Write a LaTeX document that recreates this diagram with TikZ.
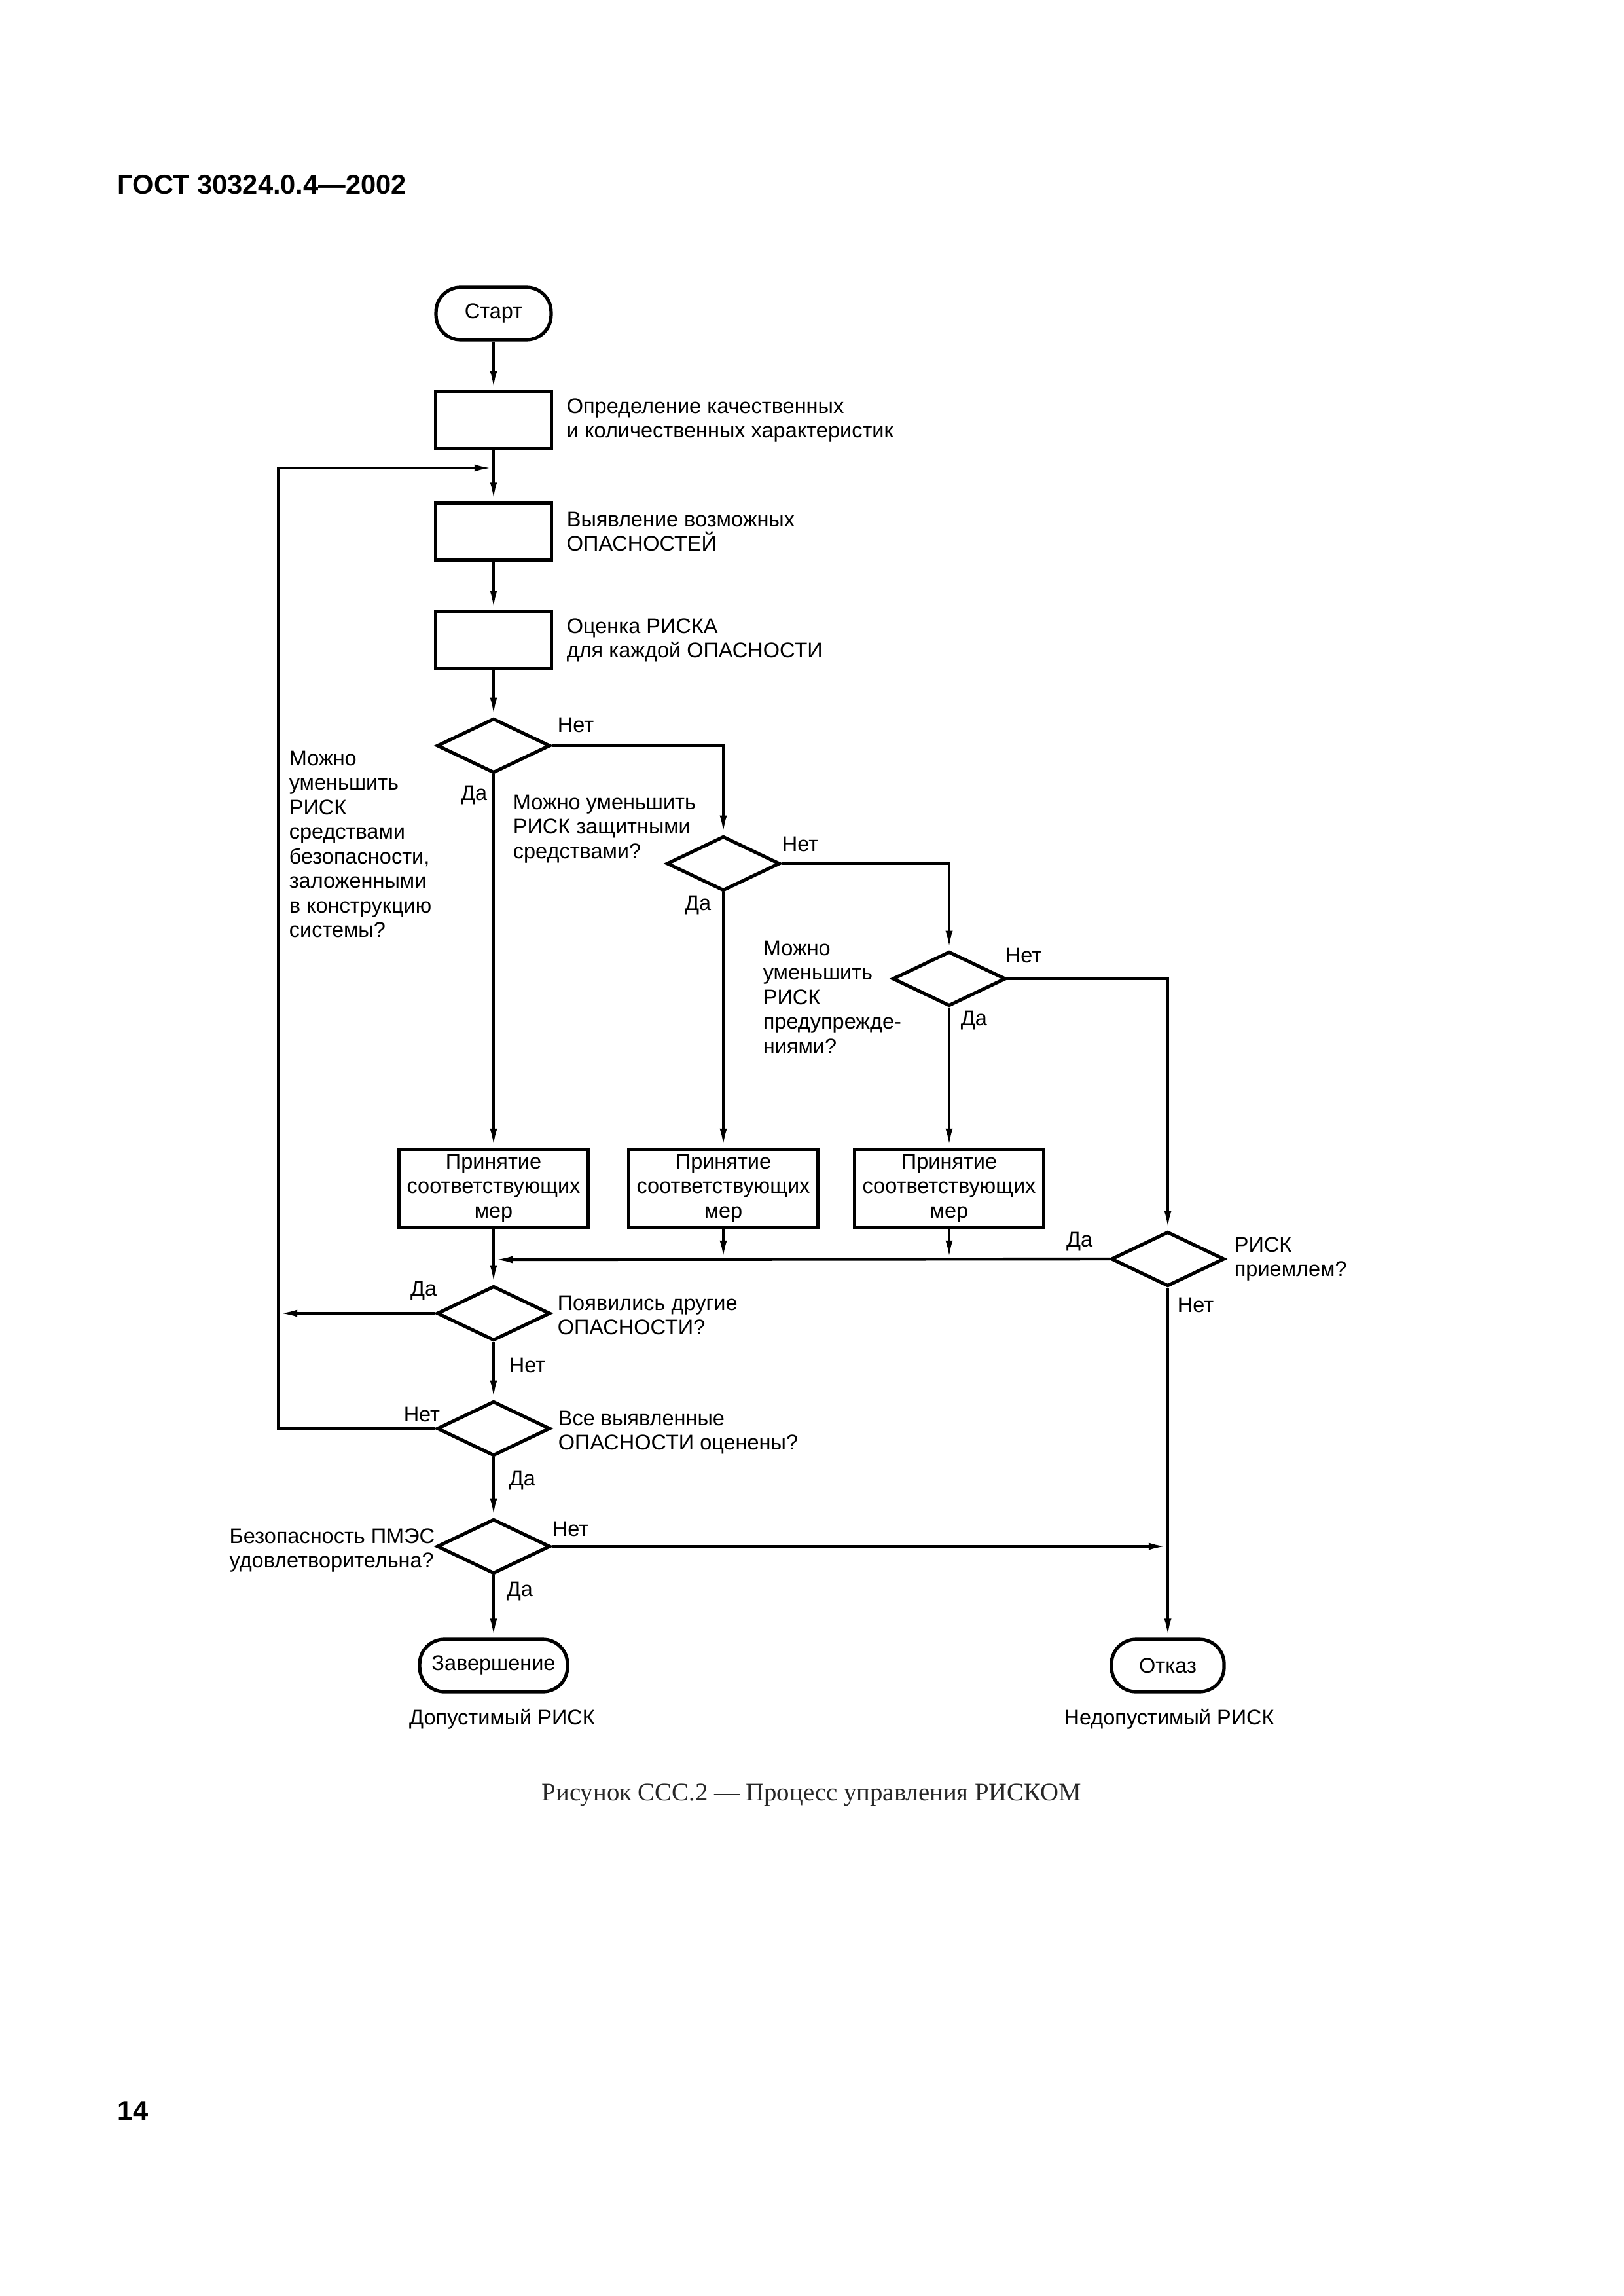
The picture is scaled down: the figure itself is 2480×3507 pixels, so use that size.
\documentclass[tikz,border=0pt]{standalone}
\usepackage{fontspec}
\setmainfont{Liberation Sans}
\newfontfamily\capfont{Liberation Serif}
\usetikzlibrary{shapes.geometric,arrows.meta,calc}
\newcommand\lblfont{\fontsize{7.8}{9}\selectfont}
\begin{document}
\begin{tikzpicture}[x=0.24pt,y=-0.24pt,
  arr/.style={line width=1.05pt,-{Latex[length=7pt,width=2.6pt]}},
  proc/.style={draw,line width=1.25pt,minimum width=42.5pt,minimum height=21pt,inner sep=0pt},
  mbox/.style={draw,line width=1.25pt,minimum width=69.5pt,minimum height=28.5pt,inner sep=0pt,align=center,font=\lblfont},
  dec/.style={diamond,draw,line width=1.25pt,minimum width=41.5pt,minimum height=20pt,inner sep=0pt},
  term/.style={draw,line width=1.25pt,rounded corners=9pt,minimum height=19.2pt,inner sep=0pt,font=\lblfont},
  lbl/.style={inner sep=0pt,font=\lblfont,align=left}]
\useasboundingbox (0,0) rectangle (2480,3507);

% header and page number
\node[anchor=west,inner sep=0pt,font=\fontsize{10}{12}\selectfont\bfseries] (hdr) at (179,282) {ГОСТ 30324.0.4—2002};
\node[anchor=west,inner sep=0pt,font=\fontsize{10}{12}\selectfont\bfseries] (pg) at (179,3224) {14};

% main column
\node[term,minimum width=42.2pt] (Start) at (754,479) {Старт};
\node[proc] (B1) at (754,642) {};
\node[proc] (B2) at (754,812) {};
\node[proc] (B3) at (754,978) {};
\node[lbl,anchor=west] (tB1) at (865,642) {Определение качественных\\и количественных характеристик};
\node[lbl,anchor=west] (tB2) at (865,812) {Выявление возможных\\ОПАСНОСТЕЙ};
\node[lbl,anchor=west] (tB3) at (865,978) {Оценка РИСКА\\для каждой ОПАСНОСТИ};

\node[dec] (D1) at (754,1139) {};
\node[dec] (D2) at (1105,1319) {};
\node[dec] (D3) at (1450,1495) {};
\node[dec] (D4) at (1784,1923) {};

\node[mbox] (M1) at (754,1815) {Принятие\\соответствующих\\мер};
\node[mbox] (M2) at (1105,1815) {Принятие\\соответствующих\\мер};
\node[mbox] (M3) at (1450,1815) {Принятие\\соответствующих\\мер};

\node[dec] (D5) at (754,2006) {};
\node[dec] (D6) at (754,2182) {};
\node[dec] (D7) at (754,2362) {};

\node[term,minimum width=54.2pt] (End) at (754,2544) {Завершение};
\node[term,minimum width=41.3pt] (Fail) at (1784,2544) {Отказ};
\node[lbl] (tEnd) at (767,2626) {Допустимый РИСК};
\node[lbl] (tFail) at (1786,2626) {Недопустимый РИСК};

% side texts
\node[lbl,anchor=north west] (q1) at (441,1146) {Можно\\уменьшить\\РИСК\\средствами\\безопасности,\\заложенными\\в конструкцию\\системы?};
\node[lbl,anchor=north west] (q2) at (783,1213) {Можно уменьшить\\РИСК защитными\\средствами?};
\node[lbl,anchor=north west] (q3) at (1165,1436) {Можно\\уменьшить\\РИСК\\предупрежде-\\ниями?};
\node[lbl,anchor=west] (q4) at (1885,1923) {РИСК\\приемлем?};
\node[lbl,anchor=west] (q5) at (851,2009) {Появились другие\\ОПАСНОСТИ?};
\node[lbl,anchor=west] (q6) at (852,2188) {Все выявленные\\ОПАСНОСТИ оценены?};
\node[lbl,anchor=east] (q7) at (665,2368) {Безопасность ПМЭС\\удовлетворительна?};

% yes/no labels
\node[lbl,anchor=west] (n1) at ($(D1.east)+(8,-32)$) {Нет};
\node[lbl,anchor=east] (y1) at ($(D1.south)+(-9,31)$) {Да};
\node[lbl,anchor=west] (n2) at ($(D2.east)+(0,-30)$) {Нет};
\node[lbl,anchor=east] (y2) at ($(D2.south)+(-18,19)$) {Да};
\node[lbl,anchor=west] (n3) at ($(D3.east)+(-4,-36)$) {Нет};
\node[lbl,anchor=west] (y3) at ($(D3.south)+(17,19)$) {Да};
\node[lbl,anchor=east] (y4) at ($(D4.west)+(-25,-26)$) {Да};
\node[lbl,anchor=west] (n4) at ($(D4.south)+(14,26)$) {Нет};
\node[lbl,anchor=east] (y5) at ($(D5.west)+(3,-34)$) {Да};
\node[lbl,anchor=west] (n5) at ($(D5.south)+(23,35)$) {Нет};
\node[lbl,anchor=east] (n6) at ($(D6.west)+(8,-22)$) {Нет};
\node[lbl,anchor=west] (y6) at ($(D6.south)+(23,35)$) {Да};
\node[lbl,anchor=west] (n7) at ($(D7.east)+(0,-27)$) {Нет};
\node[lbl,anchor=west] (y7) at ($(D7.south)+(19,24)$) {Да};

% caption
\node[inner sep=0pt,font=\capfont\fontsize{9.3}{11}\selectfont,text=black!85] (cap) at (1240,2742) {Рисунок ССС.2 — Процесс управления РИСКОМ};

% helper coordinates
\coordinate (fb) at (754,715);
\coordinate (mj) at (754,1924);
\coordinate (lx) at (425,0);

% connectors
\draw[arr] (Start) -- (B1);
\draw[arr] (B1) -- (B2);
\draw[arr] (B2) -- (B3);
\draw[arr] (B3) -- (D1.north);
\draw[arr] (D1.east) -| (D2.north);
\draw[arr] (D2.east) -| (D3.north);
\draw[arr] (D3.east) -| (D4.north);
\draw[arr] (D1.south) -- (M1.north);
\draw[arr] (D2.south) -- (M2.north);
\draw[arr] (D3.south) -- (M3.north);
\draw[arr] (M2.south) -- (M2.south |- mj);
\draw[arr] (M3.south) -- (M3.south |- mj);
\draw[arr] (D4.west) -- (mj);
\draw[arr] (M1.south) -- (D5.north);
\draw[arr] (D5.west) -- (lx |- D5.west);
\draw[arr] (D6.west) -| (lx |- fb) -- (fb);
\draw[arr] (D5.south) -- (D6.north);
\draw[arr] (D6.south) -- (D7.north);
\draw[arr] (D7.east) -- (D7.east -| Fail);
\draw[arr] (D7.south) -- (End.north);
\draw[arr] (D4.south) -- (Fail.north);
\end{tikzpicture}
\end{document}
